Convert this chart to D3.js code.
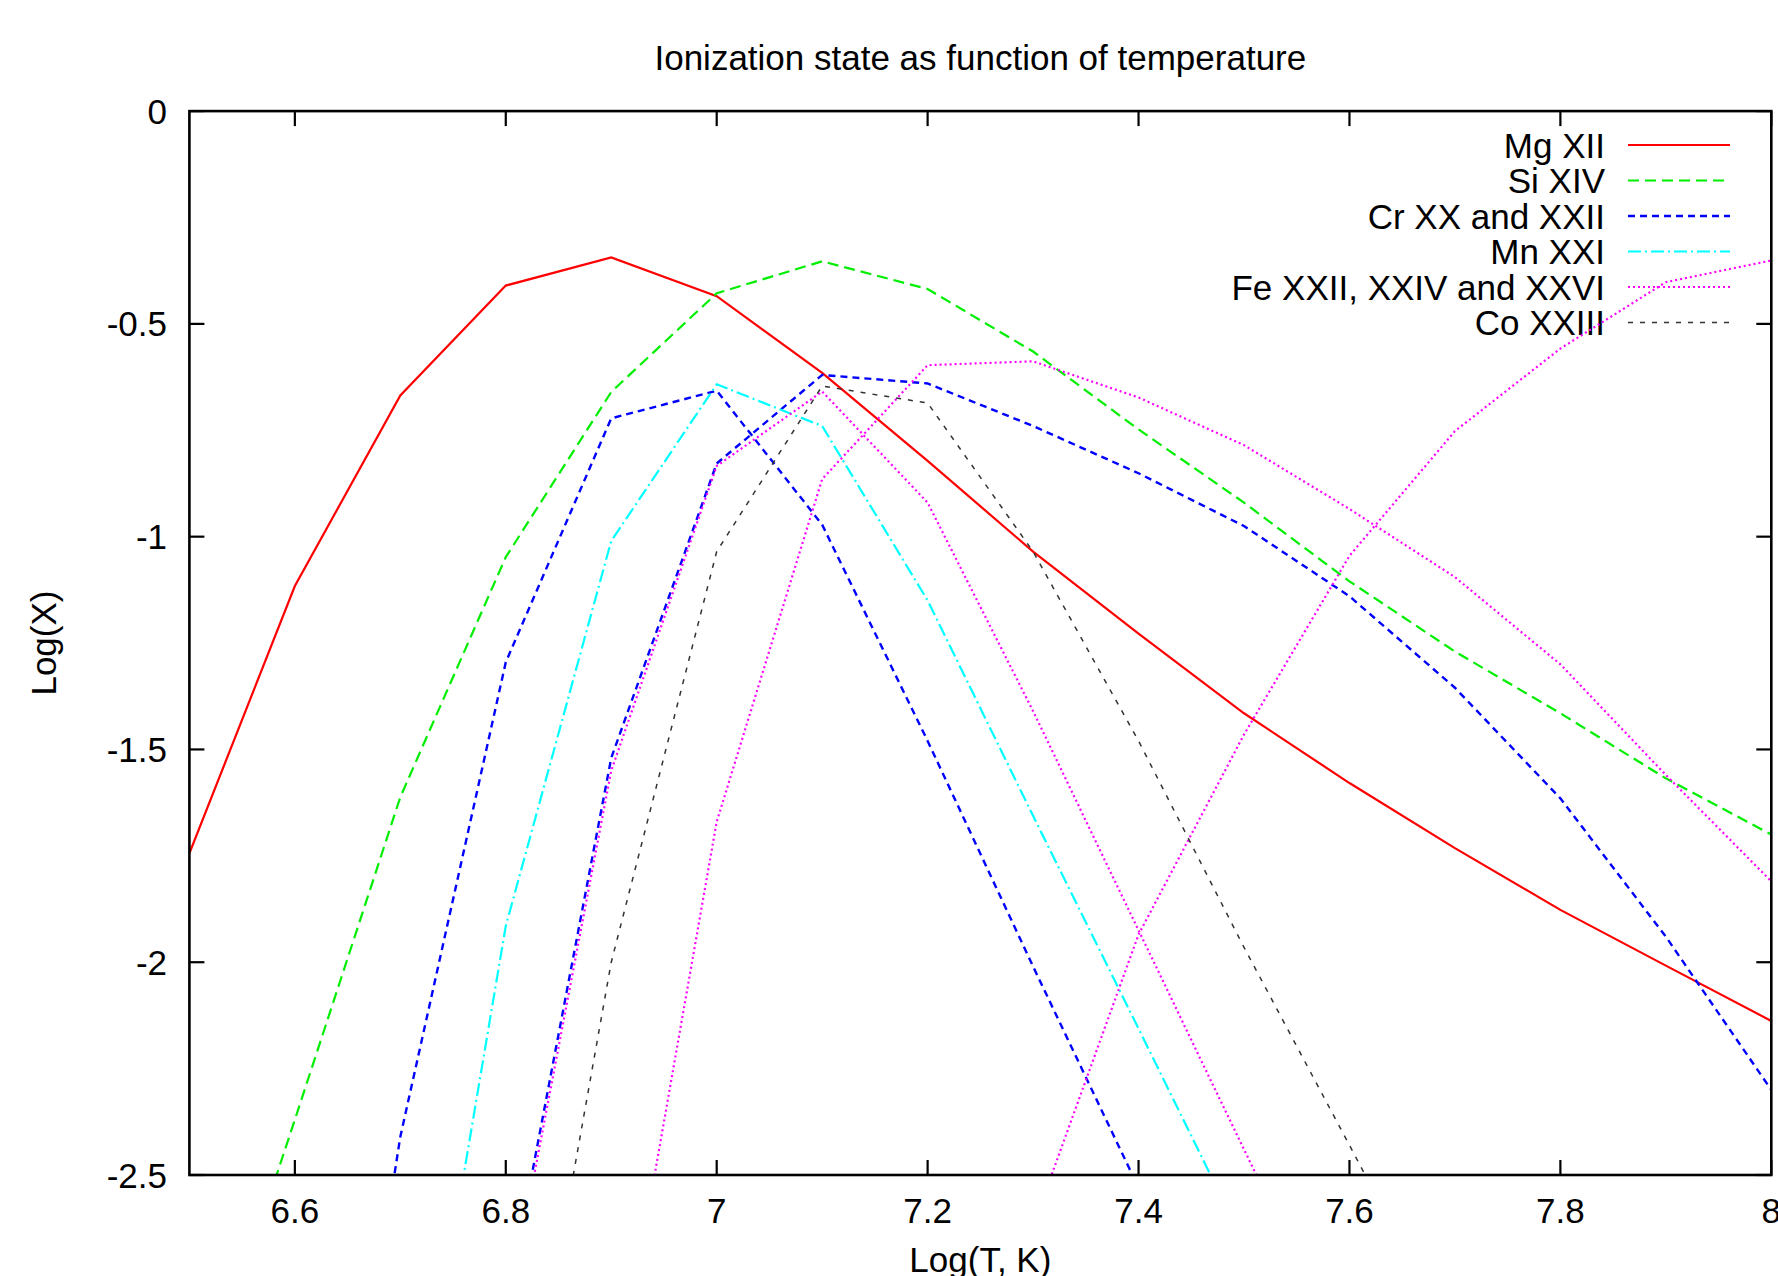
<!DOCTYPE html>
<html>
<head>
<meta charset="utf-8">
<script src="https://cdn.jsdelivr.net/npm/d3@7"></script>
<style>
  html, body { margin: 0; padding: 0; background: #fff; }
  svg { display: block; }
  text { font-family: "Liberation Sans", Arial, Helvetica, sans-serif; fill: #000; }
</style>
</head>
<body>
<svg id="chart" width="1778" height="1276"></svg>
<script>
// ---- data ----
const temps = [6.5, 6.6, 6.7, 6.8, 6.9, 7.0, 7.1, 7.2, 7.3, 7.4, 7.5, 7.6, 7.7, 7.8, 7.9, 8.0];

const mgXII   = [-1.744, -1.116, -0.668, -0.410, -0.344, -0.435, -0.615, -0.822, -1.035, -1.228, -1.415, -1.579, -1.732, -1.877, -2.008, -2.138];
const siXIV   = [-3.12, -2.37, -1.612, -1.048, -0.660, -0.428, -0.353, -0.418, -0.565, -0.748, -0.920, -1.105, -1.270, -1.415, -1.568, -1.700];
const crXX    = [null, -4.0, -2.41, -1.295, -0.722, -0.657, -0.972, -1.48, -2.01, -2.53, null, null, null, null, null, null];
const crXXII  = [null, null, null, -2.82, -1.52, -0.828, -0.620, -0.640, -0.740, -0.851, -0.975, -1.140, -1.355, -1.615, -1.94, -2.30];
const mnXXI   = [null, null, -3.38, -1.915, -1.010, -0.642, -0.740, -1.150, -1.656, -2.156, -2.66, null, null, null, null, null];
const feXXII  = [null, null, null, -2.85, -1.55, -0.834, -0.659, -0.920, -1.41, -1.925, -2.44, -2.95, null, null, null, null];
const feXXIV  = [null, null, null, null, -3.08, -1.67, -0.865, -0.597, -0.588, -0.673, -0.785, -0.935, -1.095, -1.300, -1.560, -1.810];
const feXXVI  = [null, null, null, null, null, null, null, null, -2.62, -1.935, -1.465, -1.045, -0.752, -0.558, -0.402, -0.351];
const coXXIII = [null, null, null, -3.39, -2.0, -1.035, -0.646, -0.686, -1.035, -1.48, -1.965, -2.43, -2.9, null, null, null];

const legendLabels = ["Mg XII", "Si XIV", "Cr XX and XXII", "Mn XXI", "Fe XXII, XXIV and XXVI", "Co XXIII"];
const seriesCurves = [[mgXII], [siXIV], [crXX, crXXII], [mnXXI], [feXXII, feXXIV, feXXVI], [coXXIII]];

const xTicks = [6.6, 6.8, 7.0, 7.2, 7.4, 7.6, 7.8, 8.0];
const yTicks = [0, -0.5, -1, -1.5, -2, -2.5];

const titleText = "Ionization state as function of temperature";
const xLabelText = "Log(T, K)";
const yLabelText = "Log(X)";

// ---- styles ----
const styles = [
  { color: "#ff0000", width: 2.2, dash: null },
  { color: "#00ee00", width: 2.2, dash: "11,6" },
  { color: "#0000ff", width: 2.4, dash: "7,5" },
  { color: "#00ffff", width: 2.2, dash: "13,4,2,4" },
  { color: "#ff00ff", width: 2.2, dash: "2,3" },
  { color: "#333333", width: 1.5, dash: "5,7" }
];

// ---- layout ----
const pLeft = 189.4, pRight = 1771.3, pTop = 111.1, pBottom = 1175;
const x = d3.scaleLinear().domain([6.5, 8.0]).range([pLeft, pRight]);
const y = d3.scaleLinear().domain([-2.5, 0]).range([pBottom, pTop]);
const fmt = v => String(+v.toFixed(2));   // gnuplot-style "%g" with ASCII minus

const svg = d3.select("#chart");
const FS = 35;

svg.append("defs").append("clipPath").attr("id", "plotclip")
  .append("rect").attr("x", pLeft).attr("y", pTop)
  .attr("width", pRight - pLeft).attr("height", pBottom - pTop);

// title
svg.append("text").attr("x", (pLeft + pRight) / 2).attr("y", 70)
  .attr("text-anchor", "middle").attr("font-size", FS).text(titleText);

// axis labels
svg.append("text").attr("x", (pLeft + pRight) / 2).attr("y", 1272)
  .attr("text-anchor", "middle").attr("font-size", FS).text(xLabelText);
svg.append("text").attr("transform", "translate(56," + ((pTop + pBottom) / 2) + ") rotate(-90)")
  .attr("text-anchor", "middle").attr("font-size", FS).text(yLabelText);

// ticks and tick labels
const tickLen = 15;
const tg = svg.append("g").attr("stroke", "#000").attr("stroke-width", 2.2);
xTicks.forEach(t => {
  const px = x(t);
  tg.append("line").attr("x1", px).attr("x2", px).attr("y1", pBottom).attr("y2", pBottom - tickLen);
  tg.append("line").attr("x1", px).attr("x2", px).attr("y1", pTop).attr("y2", pTop + tickLen);
  svg.append("text").attr("x", px).attr("y", 1223).attr("text-anchor", "middle")
    .attr("font-size", FS).text(fmt(t));
});
yTicks.forEach(t => {
  const py = y(t);
  tg.append("line").attr("x1", pLeft).attr("x2", pLeft + tickLen).attr("y1", py).attr("y2", py);
  tg.append("line").attr("x1", pRight).attr("x2", pRight - tickLen).attr("y1", py).attr("y2", py);
  svg.append("text").attr("x", 167).attr("y", py + 12.5).attr("text-anchor", "end")
    .attr("font-size", FS).text(fmt(t));
});

// legend
const legX = 1605, legL1 = 1628, legL2 = 1730, legY0 = 145, legDy = 35.5;
legendLabels.forEach((lab, i) => {
  const ly = legY0 + i * legDy;
  svg.append("text").attr("x", legX).attr("y", ly + 12.5).attr("text-anchor", "end")
    .attr("font-size", FS).text(lab);
  const s = styles[i];
  svg.append("line").attr("x1", legL1).attr("x2", legL2).attr("y1", ly).attr("y2", ly)
    .attr("stroke", s.color).attr("stroke-width", s.width)
    .attr("stroke-dasharray", s.dash);
});

// curves
const line = d3.line()
  .defined(d => d[1] !== null)
  .x(d => x(d[0]))
  .y(d => y(d[1]));

const plotG = svg.append("g").attr("clip-path", "url(#plotclip)");
seriesCurves.forEach((curves, i) => {
  const s = styles[i];
  curves.forEach(vals => {
    const pts = temps.map((t, k) => [t, vals[k]]);
    plotG.append("path").attr("d", line(pts))
      .attr("fill", "none").attr("stroke", s.color)
      .attr("stroke-width", s.width)
      .attr("stroke-dasharray", s.dash)
      .attr("stroke-linejoin", "miter");
  });
});

// border
svg.append("rect").attr("x", pLeft).attr("y", pTop)
  .attr("width", pRight - pLeft).attr("height", pBottom - pTop)
  .attr("fill", "none").attr("stroke", "#000").attr("stroke-width", 2.6);
</script>
</body>
</html>
